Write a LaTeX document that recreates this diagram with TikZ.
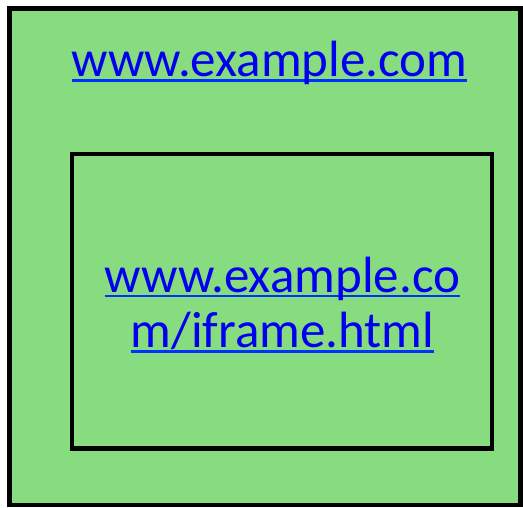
\documentclass[tikz,border=0pt]{standalone}
\usepackage{fontspec}
\setmainfont{Carlito}
\definecolor{bggreen}{HTML}{88DC80}
\definecolor{linkblue}{HTML}{0000F0}
\definecolor{ulblue}{HTML}{0033FF}
\newcommand\myul[1]{\setbox0\hbox{#1}\rlap{\color{ulblue}\rule[-5pt]{\wd0}{2.8pt}}\box0}
\tikzset{
  frame/.style={draw=black, line width=4.5pt, fill=bggreen},
  link/.style={text=linkblue, font=\fontsize{51}{55}\selectfont, inner sep=0pt, align=center},
}
\begin{document}
\begin{tikzpicture}[x=1pt,y=-1pt]
\useasboundingbox (0,0) rectangle (523,508);
\draw[frame] (9.5,8.5) rectangle (520.5,505);
\draw[frame] (72,154) rectangle (492,448.5);
\node[link, anchor=base] (outer) at (269.5,76.7) {\myul{www.example.com}};
\node[link, anchor=base] (inner1) at (282.5,292.5) {\myul{www.example.co}};
\node[link, anchor=base] (inner2) at (282.5,347.5) {\myul{m/iframe.html}};
\end{tikzpicture}
\end{document}
